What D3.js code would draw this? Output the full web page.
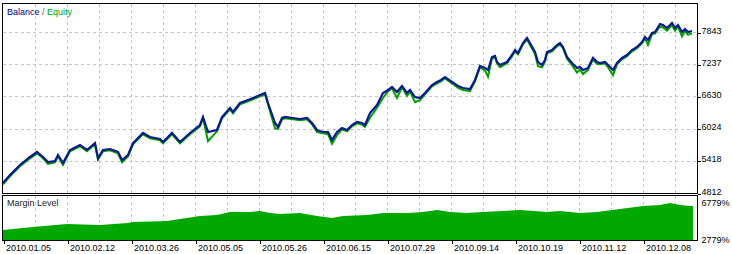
<!DOCTYPE html>
<html>
<head>
<meta charset="utf-8">
<script src="https://cdn.jsdelivr.net/npm/d3@7/dist/d3.min.js"></script>
<style>
  body { margin: 0; background: #fff; }
  svg { display: block; font-family: "Liberation Sans", Arial, sans-serif; }
  .grid line { stroke: #c4c4c4; stroke-dasharray: 3,3; shape-rendering: crispEdges; }
  .axis text { font-size: 9px; fill: #000; }
  .axis line { stroke: #000; shape-rendering: crispEdges; }
  .frame { fill: none; stroke: #000; shape-rendering: crispEdges; }
</style>
</head>
<body>
<svg id="chart" width="732" height="254"></svg>
<script>

// trade number (x) and balance / equity values
var tradeIdx = [0,7,17,27,34,40,45,52,55,60,67,77,84,92,95,100,107,115,119,125,130,140,147,157,160,169,177,187,197,200,205,214,219,227,230,237,245,250,257,262,265,272,275,279,282,290,297,304,309,314,320,325,329,334,339,344,349,354,359,362,367,374,380,385,389,394,399,404,407,412,417,422,429,434,438,442,449,455,460,467,472,477,482,485,489,492,494,497,504,509,512,515,520,524,527,532,535,539,542,544,549,554,557,560,564,569,574,577,580,585,590,594,597,602,605,610,614,619,624,629,634,639,642,645,649,652,657,660,664,669,672,675,679,682,685,689];

var balance = [5000,5151,5339,5490,5584,5490,5396,5414,5527,5377,5622,5716,5622,5753,5471,5622,5640,5584,5433,5527,5753,5942,5866,5829,5772,5942,5772,5942,6092,6243,5960,5998,6243,6412,6337,6506,6563,6600,6657,6695,6506,6130,6055,6224,6243,6224,6205,6224,6130,5998,5960,5960,5810,5960,6036,5998,6092,6149,6130,6092,6318,6469,6695,6751,6808,6713,6826,6695,6751,6619,6600,6695,6845,6902,6940,6996,6902,6826,6789,6770,6940,7203,7166,7128,7372,7391,7278,7222,7278,7410,7504,7448,7636,7730,7636,7467,7278,7222,7316,7467,7504,7598,7636,7561,7372,7259,7165,7184,7128,7165,7354,7278,7259,7278,7222,7128,7259,7354,7410,7504,7561,7655,7749,7692,7824,7843,7994,7975,7918,8012,7918,7975,7843,7900,7843,7862];

var equity = [4975,5126,5314,5465,5559,5465,5360,5389,5502,5340,5597,5691,5597,5728,5440,5597,5615,5559,5390,5502,5728,5917,5841,5804,5747,5917,5747,5917,6067,6218,5790,5973,6218,6387,6312,6481,6538,6575,6632,6670,6481,6030,6020,6199,6218,6199,6180,6199,6105,5960,5935,5920,5740,5900,6011,5973,6067,6124,6100,6060,6230,6420,6600,6726,6783,6600,6801,6640,6726,6520,6560,6670,6820,6877,6915,6971,6877,6790,6750,6730,6915,7178,7120,7000,7347,7366,7253,7180,7253,7385,7479,7423,7611,7705,7600,7430,7200,7180,7291,7442,7479,7573,7611,7536,7340,7220,7080,7140,7050,7130,7329,7240,7234,7253,7180,7030,7234,7329,7385,7479,7536,7630,7724,7600,7799,7818,7950,7930,7870,7970,7870,7950,7760,7860,7790,7820];

// margin level (%)
var marginIdx = [0,30,64,97,125,130,164,197,214,227,247,257,267,277,297,314,329,340,364,380,404,420,434,447,464,480,517,544,557,577,594,617,640,657,667,677,687,690];
var marginLevel = [3860,4184,4509,4401,4617,4725,4833,5373,5482,5806,5806,5914,5698,5590,5698,5373,5157,5373,5482,5698,5698,5806,6022,5806,5698,5806,6022,5806,5914,5698,5806,6130,6455,6563,6779,6563,6455,6455];

var balanceTicks = [4812, 5418, 6024, 6630, 7237, 7843];
var marginTicks = [2779, 6779];
var dateTickIdx = [0, 64, 128, 192, 256, 320, 384, 448, 512, 576, 640];
var dateLabels = ["2010.01.05","2010.02.12","2010.03.26","2010.05.05","2010.05.26","2010.06.15","2010.07.29","2010.09.14","2010.10.19","2010.11.12","2010.12.08"];

var svg = d3.select("#chart");

var left = 2.5, right = 697.5;
var mainTop = 3.5, mainBottom = 193;
var marTop = 195.5, marBottom = 240;

var x = d3.scaleLinear().domain([0, 690]).range([3, 693]);
var y = d3.scaleLinear().domain([4812, 7843]).range([193, 32]);
var ym = d3.scaleLinear().domain([2779, 6779]).range([240, 203]);

// grid
var vGrid = d3.range(32, 690, 32);
var grid = svg.append("g").attr("class", "grid");
grid.selectAll(".vg1").data(vGrid).enter().append("line")
    .attr("x1", function(d) { return Math.round(x(d)) + 0.5; })
    .attr("x2", function(d) { return Math.round(x(d)) + 0.5; })
    .attr("y1", mainTop).attr("y2", mainBottom);
grid.selectAll(".vg2").data(vGrid).enter().append("line")
    .attr("x1", function(d) { return Math.round(x(d)) + 0.5; })
    .attr("x2", function(d) { return Math.round(x(d)) + 0.5; })
    .attr("y1", marTop).attr("y2", marBottom);
grid.selectAll(".hg").data(balanceTicks.slice(1)).enter().append("line")
    .attr("x1", left).attr("x2", right)
    .attr("y1", function(d) { return Math.round(y(d)) + 0.5; })
    .attr("y2", function(d) { return Math.round(y(d)) + 0.5; });

// clip
svg.append("clipPath").attr("id", "clipMain")
   .append("rect").attr("x", left).attr("y", mainTop).attr("width", right - left).attr("height", mainBottom - mainTop);

var plot = svg.append("g").attr("clip-path", "url(#clipMain)");

var eqLine = d3.line()
    .x(function(d, i) { return x(tradeIdx[i]); })
    .y(function(d) { return y(d); });

plot.append("path")
    .datum(equity)
    .attr("d", eqLine)
    .attr("fill", "none")
    .attr("stroke", "#00a000")
    .attr("stroke-width", 2);

plot.append("path")
    .datum(balance)
    .attr("d", eqLine)
    .attr("fill", "none")
    .attr("stroke", "#0a1a8c")
    .attr("stroke-width", 2.2);

// margin level area
var area = d3.area()
    .x(function(d, i) { return x(marginIdx[i]); })
    .y0(marBottom)
    .y1(function(d) { return ym(d); });

svg.append("path")
    .datum(marginLevel)
    .attr("d", area)
    .attr("fill", "#00a800");

// frames
svg.append("rect").attr("class", "frame")
   .attr("x", left).attr("y", mainTop).attr("width", right - left).attr("height", mainBottom - mainTop + 0.5);
svg.append("rect").attr("class", "frame")
   .attr("x", left).attr("y", marTop).attr("width", right - left).attr("height", marBottom - marTop + 0.5);

// right axes
var yAxis = d3.axisRight(y).tickValues(balanceTicks).tickSize(3).tickFormat(d3.format("d"));
var ga = svg.append("g").attr("class", "axis").attr("transform", "translate(" + right + ",0.5)").call(yAxis);
ga.select(".domain").remove();
ga.selectAll("text").attr("dy", "0.5").attr("x", 4);

var mAxis = d3.axisRight(ym).tickValues(marginTicks).tickSize(0).tickFormat(function(d) { return d + "%"; });
var gm = svg.append("g").attr("class", "axis").attr("transform", "translate(" + right + ",0)").call(mAxis);
gm.select(".domain").remove();
gm.selectAll("text").attr("dy", "2").attr("x", 4);

// date axis
var xAxis = d3.axisBottom(x).tickValues(dateTickIdx).tickSize(3)
    .tickFormat(function(d, i) { return dateLabels[i]; });
var gx = svg.append("g").attr("class", "axis").attr("transform", "translate(0.5," + (marBottom + 0.5) + ")").call(xAxis);
gx.select(".domain").remove();
gx.selectAll("text").attr("text-anchor", "start").attr("x", 2).attr("y", 4).attr("dy", "0.71em");

// legends
var leg = svg.append("text").attr("x", 7).attr("y", 15).attr("font-size", "9px");
leg.append("tspan").attr("fill", "#000080").text("Balance");
leg.append("tspan").attr("fill", "#555").text(" / ");
leg.append("tspan").attr("fill", "#00a000").text("Equity");

svg.append("text").attr("x", 7).attr("y", 206).attr("font-size", "9px").attr("fill", "#222").text("Margin Level");

</script>
</body>
</html>
